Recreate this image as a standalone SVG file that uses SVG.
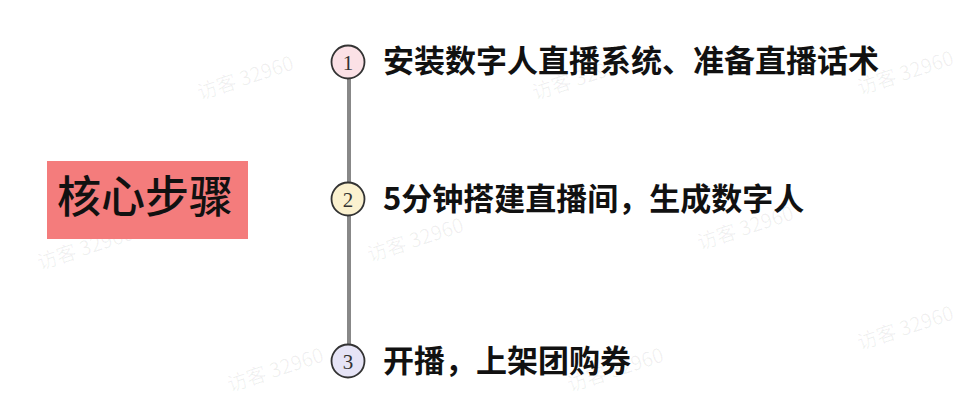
<svg xmlns="http://www.w3.org/2000/svg" width="966" height="402" viewBox="0 0 966 402">
<style>
.lbl{font-family:"Noto Sans CJK SC","Noto Sans",sans-serif;font-size:31px;font-weight:bold;fill:#111}
.num{font-family:"Liberation Serif","Noto Sans",serif;font-size:21px;fill:#333;text-anchor:middle}
.dot{stroke:#333;stroke-width:1.8}
.wm{font-family:"Noto Sans CJK SC","Noto Sans",sans-serif;font-size:20px;fill:#000;fill-opacity:0.06}
</style>
<rect width="966" height="402" fill="#fff"/>
<g id="watermarks">
<text class="wm" transform="translate(200,100) rotate(-18)">访客 32960</text>
<text class="wm" transform="translate(535,100) rotate(-18)">访客 32960</text>
<text class="wm" transform="translate(860,95) rotate(-18)">访客 32960</text>
<text class="wm" transform="translate(370,262) rotate(-18)">访客 32960</text>
<text class="wm" transform="translate(700,250) rotate(-18)">访客 32960</text>
<text class="wm" transform="translate(40,270) rotate(-18)">访客 32960</text>
<text class="wm" transform="translate(570,392) rotate(-18)">访客 32960</text>
<text class="wm" transform="translate(230,392) rotate(-18)">访客 32960</text>
<text class="wm" transform="translate(860,350) rotate(-18)">访客 32960</text>
</g>
<g id="connectors">
<line x1="349" y1="78" x2="349" y2="345" stroke="#888" stroke-width="4"/>
</g>
<g id="root">
<rect x="47" y="161" width="201" height="78" fill="#f47c7c"/>
<text x="145" y="213" text-anchor="middle" font-family="Noto Sans CJK SC,sans-serif" font-size="44" font-weight="500" fill="#111">核心步骤</text>
</g>
<g id="step1">
<circle class="dot" cx="348" cy="62" r="16.5" fill="#fbe1e6"/>
<text class="num" x="348" y="69.5">1</text>
<text class="lbl" x="383" y="72">安装数字人直播系统、准备直播话术</text>
</g>
<g id="step2">
<circle class="dot" cx="348" cy="199" r="16.5" fill="#fbf1cf"/>
<text class="num" x="348" y="206.5">2</text>
<text class="lbl" x="383" y="210">5分钟搭建直播间，生成数字人</text>
</g>
<g id="step3">
<circle class="dot" cx="348" cy="361" r="16.5" fill="#e6e4f6"/>
<text class="num" x="348" y="368.5">3</text>
<text class="lbl" x="383" y="372">开播，上架团购券</text>
</g>
</svg>
